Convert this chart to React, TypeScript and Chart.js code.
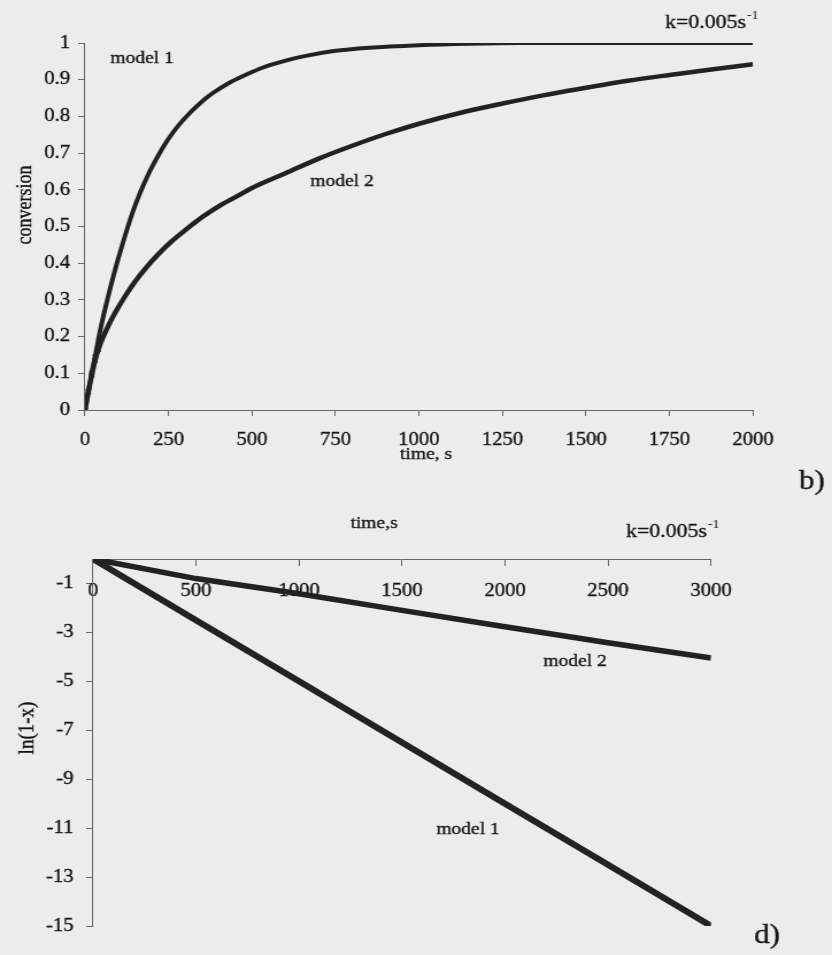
import React, { useEffect, useRef } from "react";
import { Chart, registerables } from "chart.js";
Chart.register(...registerables);

// ---------- data ----------
// Top chart (b): conversion vs time
const topTime1 = [0, 10, 20, 30, 45, 60, 85, 105, 125, 145, 165, 190, 210, 235, 260, 285, 310, 335, 360, 385, 435, 485, 535, 585, 650, 745, 850, 1000, 1150, 1300, 1500, 1750, 2000];
const topModel1 = [0, 0.05, 0.1, 0.145, 0.215, 0.275, 0.365, 0.43, 0.49, 0.545, 0.592, 0.643, 0.678, 0.718, 0.752, 0.781, 0.806, 0.828, 0.848, 0.865, 0.893, 0.915, 0.934, 0.948, 0.963, 0.978, 0.987, 0.994, 0.998, 1, 1, 1, 1];
const topTime2 = [0, 10, 20, 30, 40, 50, 70, 90, 120, 150, 185, 220, 260, 300, 350, 400, 450, 500, 600, 700, 800, 900, 1000, 1125, 1250, 1375, 1500, 1625, 1750, 1875, 2000];
const topModel2 = [0, 0.05, 0.095, 0.135, 0.165, 0.19, 0.23, 0.265, 0.31, 0.35, 0.39, 0.425, 0.46, 0.49, 0.525, 0.555, 0.58, 0.605, 0.645, 0.685, 0.72, 0.752, 0.78, 0.81, 0.835, 0.858, 0.878, 0.897, 0.913, 0.928, 0.942];
const topXTicks = [0, 250, 500, 750, 1000, 1250, 1500, 1750, 2000];
const topYTicks = [0, 0.1, 0.2, 0.3, 0.4, 0.5, 0.6, 0.7, 0.8, 0.9, 1];

// Bottom chart (d): ln(1-x) vs time
const botTime = [0, 500, 1000, 1500, 2000, 2500, 3000];
const botModel1 = [0, -2.5, -5, -7.5, -10, -12.5, -15];
const botModel2 = [0, -0.8, -1.42, -2.1, -2.77, -3.42, -4.05];
const botXTicks = [0, 500, 1000, 1500, 2000, 2500, 3000];
const botYTicks = [-1, -3, -5, -7, -9, -11, -13, -15];

// ---------- layout / style ----------
const PAGE_W = 832;
const W = 724;
const S = PAGE_W / W; // horizontal stretch of the scanned figure
const H1 = 500;
const H2 = 455;
const FAMILY = "'Liberation Serif', 'Times New Roman', serif";
const INK = "#141414";
const AXIS = "#666666";
const LINE = "#222222";
const BG = "#ececec";

type T = { text: string; x: number; y: number; size: number; align?: CanvasTextAlign; baseline?: CanvasTextBaseline; rotate?: number; sup?: string };

const makeTexts = (items: T[]) => ({
  id: "texts",
  afterDraw(chart: any) {
    const ctx = chart.ctx as CanvasRenderingContext2D;
    for (const it of items) {
      ctx.save();
      ctx.fillStyle = INK;
      ctx.strokeStyle = INK;
      ctx.lineWidth = 0.35;
      ctx.font = `${it.size}px ${FAMILY}`;
      ctx.textAlign = it.align ?? "center";
      ctx.textBaseline = it.baseline ?? "middle";
      ctx.translate(it.x, it.y);
      if (it.rotate) ctx.rotate(it.rotate);
      ctx.fillText(it.text, 0, 0);
      ctx.strokeText(it.text, 0, 0);
      if (it.sup) {
        const w = ctx.measureText(it.text).width;
        ctx.font = `12px ${FAMILY}`;
        ctx.textAlign = "left";
        ctx.fillText(it.sup, w + 1, -9);
      }
      ctx.restore();
    }
  },
});

const topTexts: T[] = [
  { text: "model 1", x: 142 / S, y: 59, size: 17 },
  { text: "model 2", x: 342 / S, y: 182, size: 17 },
  { text: "k=0.005s", x: 665 / S, y: 28, size: 19, align: "left", baseline: "alphabetic", sup: "-1" },
  { text: "conversion", x: 26 / S, y: 205, size: 18, rotate: -Math.PI / 2 },
  { text: "time, s", x: 426 / S, y: 455, size: 17 },
  { text: "b)", x: 812 / S, y: 482, size: 27 },
];

const botTexts: T[] = [
  { text: "time,s", x: 374 / S, y: 24, size: 17 },
  { text: "k=0.005s", x: 626 / S, y: 37, size: 19, align: "left", baseline: "alphabetic", sup: "-1" },
  { text: "ln(1-x)", x: 28 / S, y: 228, size: 19, rotate: -Math.PI / 2 },
  { text: "model 2", x: 575 / S, y: 162, size: 17 },
  { text: "model 1", x: 468 / S, y: 330, size: 17 },
  { text: "d)", x: 767 / S, y: 436, size: 27 },
];

const tickFont = { family: FAMILY, size: 18 };

const axisBase = (ticksArr: number[]) => ({
  type: "linear" as const,
  afterBuildTicks: (s: any) => {
    s.ticks = ticksArr.map((v) => ({ value: v }));
  },
  grid: { drawOnChartArea: false, drawTicks: true, tickLength: 6, color: AXIS, lineWidth: 1 },
  border: { display: true, color: AXIS, width: 1 },
});

const tickStyle = { font: tickFont, color: INK, textStrokeColor: INK, textStrokeWidth: 0.35, maxRotation: 0, autoSkip: false };

export default function App() {
  const topRef = useRef<HTMLCanvasElement>(null);
  const botRef = useRef<HTMLCanvasElement>(null);

  useEffect(() => {
    const marker = (c: any) => (c.raw && c.raw.x <= 40 ? 3 : 0);
    const top = new Chart(topRef.current as HTMLCanvasElement, {
      type: "line",
      data: {
        datasets: [
          {
            label: "model 1",
            data: topTime1.map((t, i) => ({ x: t, y: topModel1[i] })),
            borderColor: LINE,
            borderWidth: 4,
            cubicInterpolationMode: "monotone",
            pointStyle: "crossRot",
            pointRadius: marker,
            pointBorderColor: LINE,
            pointBorderWidth: 1.5,
            fill: false,
          },
          {
            label: "model 2",
            data: topTime2.map((t, i) => ({ x: t, y: topModel2[i] })),
            borderColor: LINE,
            borderWidth: 4.5,
            cubicInterpolationMode: "monotone",
            pointStyle: "crossRot",
            pointRadius: marker,
            pointBorderColor: LINE,
            pointBorderWidth: 1.5,
            fill: false,
          },
        ],
      },
      options: {
        animation: false,
        responsive: false,
        maintainAspectRatio: false,
        devicePixelRatio: 1,
        layout: { padding: { left: 0, top: 43, right: W - 753 / S, bottom: 40 } },
        plugins: { legend: { display: false }, tooltip: { enabled: false } },
        scales: {
          x: {
            ...axisBase(topXTicks),
            position: "bottom",
            min: 0,
            max: 2000,
            afterFit: (s: any) => {
              s.height = 50;
            },
            ticks: { ...tickStyle, padding: 13, callback: (v: any) => String(v) },
          },
          y: {
            ...axisBase(topYTicks),
            position: "left",
            min: 0,
            max: 1,
            afterFit: (s: any) => {
              s.width = 85 / S;
            },
            ticks: { ...tickStyle, padding: 7, callback: (v: any) => String(Math.round(Number(v) * 10) / 10) },
          },
        },
      } as any,
      plugins: [makeTexts(topTexts)],
    });

    const bot = new Chart(botRef.current as HTMLCanvasElement, {
      type: "line",
      data: {
        datasets: [
          {
            label: "model 1",
            data: botTime.map((t, i) => ({ x: t, y: botModel1[i] })),
            borderColor: LINE,
            borderWidth: 6,
            pointRadius: 0,
            tension: 0,
            fill: false,
          },
          {
            label: "model 2",
            data: botTime.map((t, i) => ({ x: t, y: botModel2[i] })),
            borderColor: LINE,
            borderWidth: 5.5,
            pointRadius: 0,
            tension: 0,
            fill: false,
          },
        ],
      },
      options: {
        animation: false,
        responsive: false,
        maintainAspectRatio: false,
        devicePixelRatio: 1,
        layout: { padding: { left: 0, top: 59, right: W - 711 / S, bottom: 29 } },
        plugins: { legend: { display: false }, tooltip: { enabled: false } },
        scales: {
          x: {
            ...axisBase(botXTicks),
            position: { y: 0 },
            min: 0,
            max: 3000,
            ticks: { ...tickStyle, padding: 15, callback: (v: any) => String(v) },
          },
          y: {
            ...axisBase(botYTicks),
            position: "left",
            min: -15,
            max: 0,
            afterFit: (s: any) => {
              s.width = 93 / S;
            },
            ticks: { ...tickStyle, padding: 11, callback: (v: any) => String(v) },
          },
        },
      } as any,
      plugins: [makeTexts(botTexts)],
    });

    return () => {
      top.destroy();
      bot.destroy();
    };
  }, []);

  const wrap = (topPx: number, h: number): React.CSSProperties => ({
    position: "absolute",
    left: 0,
    top: topPx,
    width: W,
    height: h,
    transform: `scaleX(${S})`,
    transformOrigin: "0 0",
  });

  return (
    <div style={{ position: "fixed", left: 0, top: 0, width: PAGE_W, height: 955, background: BG, overflow: "hidden" }}>
      <div style={wrap(0, H1)}>
        <canvas ref={topRef} width={W} height={H1} style={{ display: "block", width: W, height: H1 }} />
      </div>
      <div style={wrap(H1, H2)}>
        <canvas ref={botRef} width={W} height={H2} style={{ display: "block", width: W, height: H2 }} />
      </div>
    </div>
  );
}
